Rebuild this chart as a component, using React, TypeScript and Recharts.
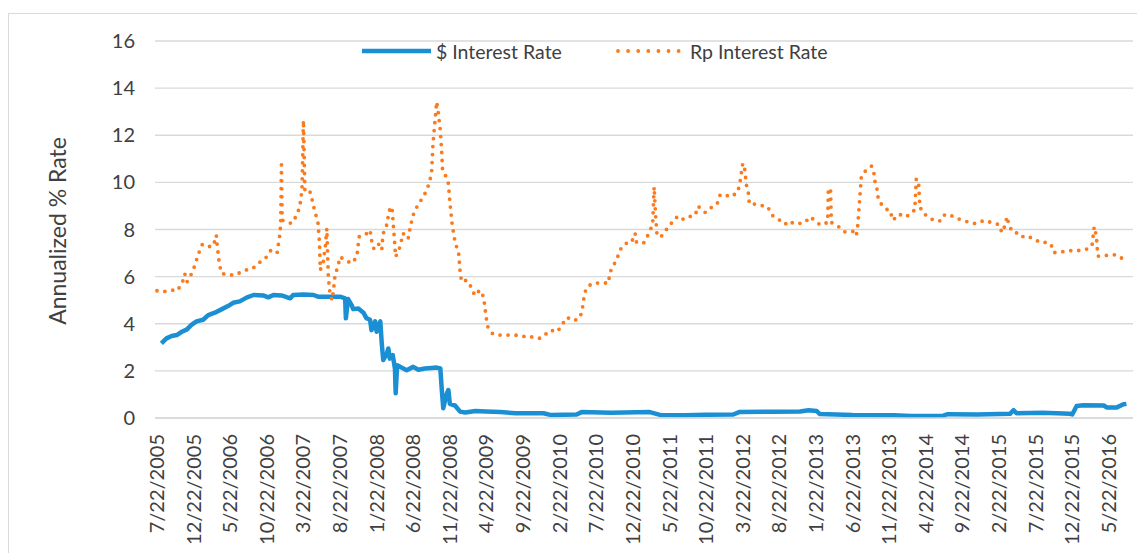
import React from "react";
import {
  LineChart,
  Line,
  XAxis,
  YAxis,
  CartesianGrid,
} from "recharts";

// months counted from 7/22/2005, one label every 5 months
const DATE_LABELS = [
  "7/22/2005", "12/22/2005", "5/22/2006", "10/22/2006", "3/22/2007",
  "8/22/2007", "1/22/2008", "6/22/2008", "11/22/2008", "4/22/2009",
  "9/22/2009", "2/22/2010", "7/22/2010", "12/22/2010", "5/22/2011",
  "10/22/2011", "3/22/2012", "8/22/2012", "1/22/2013", "6/22/2013",
  "11/22/2013", "4/22/2014", "9/22/2014", "2/22/2015", "7/22/2015",
  "12/22/2015", "5/22/2016",
];
const TICK_STEP = 5;
const Y_TICKS = [0, 2, 4, 6, 8, 10, 12, 14, 16];

const USD_MONTHS = [
  0.6, 1.3, 2.0, 2.7, 3.4, 4.1, 4.7, 5.4, 6.3, 7.0, 7.9, 8.8, 9.7, 10.4, 11.3,
  12.3, 13.2, 14.5, 15.2, 15.9, 17.0, 18.2, 18.6, 20.0, 21.4, 22.0, 23.5, 25.0,
  25.7, 25.8, 26.1, 26.6, 26.8, 27.5, 28.2, 28.6, 29.1, 29.3, 29.8, 30.0, 30.5,
  30.7, 30.9, 31.4, 31.6, 31.8, 32.2, 32.5, 32.6, 32.8, 33.4, 34.1, 35.0, 35.7,
  36.6, 37.5, 38.2, 38.7, 38.9, 39.1, 39.5, 39.8, 40.0, 40.7, 41.4, 42.1, 43.5,
  44.9, 46.9, 49.0, 52.8, 53.7, 57.3, 58.0, 62.0, 67.3, 68.7, 72.0, 75.0, 78.7,
  79.5, 84.0, 87.8, 89.0, 90.1, 90.5, 95.0, 100.6, 103.0, 107.4, 108.0, 112.0,
  116.5, 117.0, 117.4, 121.0, 124.7, 125.0, 125.6, 126.5, 129.3, 129.7, 131.1,
  132.0, 132.4,
];
const USD_RATES = [
  3.17, 3.38, 3.48, 3.52, 3.66, 3.76, 3.95, 4.1, 4.17, 4.37, 4.47, 4.61, 4.75,
  4.89, 4.95, 5.12, 5.22, 5.2, 5.12, 5.22, 5.2, 5.08, 5.22, 5.24, 5.22, 5.15,
  5.15, 5.15, 5.08, 4.23, 5.05, 4.78, 4.62, 4.65, 4.47, 4.24, 4.17, 3.73, 4.1,
  3.66, 4.1, 3.17, 2.46, 2.74, 2.95, 2.52, 2.67, 2.1, 1.05, 2.24, 2.14, 2.03,
  2.17, 2.05, 2.1, 2.12, 2.14, 2.1, 1.19, 0.41, 0.96, 1.19, 0.6, 0.53, 0.27,
  0.23, 0.3, 0.28, 0.25, 0.2, 0.2, 0.13, 0.15, 0.25, 0.22, 0.25, 0.13, 0.12,
  0.14, 0.15, 0.25, 0.27, 0.28, 0.33, 0.3, 0.17, 0.13, 0.12, 0.08, 0.1, 0.16,
  0.15, 0.18, 0.33, 0.2, 0.22, 0.18, 0.15, 0.51, 0.54, 0.53, 0.45, 0.45, 0.58,
  0.6,
];

const RP_MONTHS = [
  0.0, 0.9, 2.0, 2.8, 3.5, 3.8, 4.1, 4.7, 5.2, 5.6, 6.2, 7.0, 7.7, 8.1, 8.2,
  8.5, 8.8, 9.7, 10.7, 11.8, 13.1, 13.8, 14.8, 15.5, 16.4, 16.6, 16.8, 16.9,
  17.0, 17.1, 17.5, 18.4, 19.1, 19.5, 19.8, 20.0, 20.2, 20.8, 21.1, 21.4, 21.7,
  22.0, 22.2, 22.3, 22.7, 23.0, 23.2, 23.4, 23.6, 23.9, 24.1, 24.3, 24.8, 25.0,
  25.7, 26.6, 27.3, 27.6, 28.4, 29.1, 29.3, 29.6, 30.2, 30.7, 30.8, 31.0, 31.5,
  31.6, 32.1, 32.2, 32.4, 32.5, 32.6, 33.2, 33.6, 34.3, 34.6, 35.0, 35.7, 36.4,
  37.1, 37.5, 37.7, 38.2, 38.4, 38.7, 38.9, 39.0, 39.3, 39.8, 40.0, 40.3, 40.7,
  41.2, 41.4, 41.6, 42.3, 42.9, 43.4, 44.1, 44.6, 44.8, 45.0, 45.2, 45.8, 46.4,
  47.5, 48.6, 49.8, 50.5, 51.4, 52.3, 52.7, 53.7, 54.7, 55.3, 56.0, 57.0, 57.8,
  58.1, 58.3, 58.6, 59.4, 60.3, 61.0, 61.7, 61.8, 62.8, 63.3, 64.0, 64.8, 65.3,
  65.5, 66.5, 67.2, 67.7, 67.9, 68.1, 68.3, 68.9, 69.3, 70.1, 70.6, 71.3, 71.9,
  72.6, 73.5, 73.9, 74.9, 75.7, 76.5, 76.9, 77.4, 78.3, 79.3, 79.6, 80.0, 80.2,
  80.5, 80.8, 80.9, 81.8, 82.8, 83.4, 84.0, 84.9, 85.8, 86.2, 87.2, 88.5, 89.2,
  89.9, 90.6, 91.6, 91.7, 92.0, 92.1, 93.1, 93.9, 95.1, 95.5, 95.7, 96.2, 96.9,
  97.6, 98.0, 98.1, 98.4, 98.5, 99.1, 99.7, 100.2, 100.4, 100.7, 101.3, 102.0,
  102.4, 102.9, 103.5, 103.7, 104.0, 104.2, 104.5, 104.9, 105.5, 106.2, 107.1,
  107.6, 108.0, 109.0, 109.7, 110.8, 111.8, 113.0, 114.1, 115.0, 115.4, 115.8,
  116.1, 116.4, 117.1, 117.7, 118.3, 118.7, 119.7, 120.6, 121.5, 122.1, 122.5,
  123.7, 124.7, 125.7, 126.9, 127.7, 128.0, 128.3, 128.5, 129.7, 130.9, 131.7,
  132.8,
];
const RP_RATES = [
  5.4, 5.36, 5.43, 5.4, 5.78, 6.12, 5.78, 6.11, 6.49, 6.92, 7.37, 7.27, 7.3,
  7.76, 7.4, 6.59, 6.14, 6.07, 6.07, 6.25, 6.35, 6.56, 6.77, 7.1, 6.99, 7.42,
  7.84, 8.26, 10.75, 8.4, 8.33, 8.26, 8.61, 8.97, 9.67, 12.64, 9.67, 9.7, 9.39,
  8.97, 8.62, 8.26, 7.4, 6.28, 6.6, 7.3, 8.05, 6.0, 5.36, 5.0, 5.4, 6.0, 6.56,
  6.84, 6.7, 6.56, 6.84, 7.69, 7.76, 7.98, 7.55, 7.2, 7.42, 7.13, 7.55, 7.98,
  8.26, 8.75, 8.97, 8.54, 7.69, 7.27, 6.84, 7.27, 7.84, 7.6, 8.12, 8.62, 9.1,
  9.38, 9.89, 10.38, 11.65, 13.42, 13.0, 12.2, 11.23, 10.52, 10.38, 9.95, 9.17,
  8.26, 7.48, 6.99, 6.21, 5.78, 5.85, 5.57, 5.2, 5.43, 5.15, 4.66, 4.2, 3.87,
  3.59, 3.52, 3.52, 3.52, 3.5, 3.42, 3.45, 3.38, 3.45, 3.73, 3.66, 3.95, 4.27,
  4.13, 4.27, 4.65, 5.08, 5.5, 5.71, 5.73, 5.73, 5.73, 6.14, 6.74, 7.16, 7.41,
  7.44, 7.84, 7.44, 7.44, 7.84, 8.23, 9.81, 8.6, 7.72, 7.72, 7.9, 8.19, 8.44,
  8.58, 8.43, 8.54, 8.6, 8.99, 8.72, 8.93, 9.08, 9.46, 9.5, 9.38, 9.57, 9.95,
  10.8, 10.75, 9.89, 9.5, 9.08, 9.08, 9.0, 8.97, 8.61, 8.43, 8.22, 8.36, 8.23,
  8.3, 8.54, 8.37, 8.19, 8.3, 9.75, 9.7, 8.3, 8.12, 7.9, 7.92, 7.73, 8.15,
  10.24, 10.55, 10.69, 10.3, 9.88, 9.67, 9.28, 9.0, 8.85, 8.79, 8.4, 8.45, 8.65,
  8.58, 8.54, 8.72, 8.82, 10.14, 10.1, 8.9, 8.86, 8.64, 8.5, 8.37, 8.37, 8.64,
  8.62, 8.54, 8.42, 8.32, 8.25, 8.39, 8.28, 8.21, 7.87, 8.15, 8.55, 8.12, 7.84,
  7.87, 7.69, 7.73, 7.62, 7.45, 7.45, 7.37, 7.02, 7.06, 7.1, 7.1, 7.16, 7.3,
  8.12, 7.72, 6.87, 6.9, 6.93, 6.79, 6.79,
];

const BLUE = "#1B8FD3";
const ORANGE = "#FA7A1C";
const TEXT = "#404040";
const GRID = "#d9d9d9";
const FONT = "Lato, 'Open Sans', sans-serif";

const usdData = USD_MONTHS.map((m, i) => ({ m, v: USD_RATES[i] }));
const rpData = RP_MONTHS.map((m, i) => ({ m, v: RP_RATES[i] }));
const xTicks = DATE_LABELS.map((_, i) => i * TICK_STEP);

function DateTick({ x, y, payload }: any) {
  const label = DATE_LABELS[Math.round(payload.value / TICK_STEP)];
  return (
    <text
      x={x}
      y={y}
      transform={`rotate(-90 ${x} ${y})`}
      textAnchor="end"
      dy="0.35em"
      fill={TEXT}
      fontSize={20}
      fontFamily={FONT}
    >
      {label}
    </text>
  );
}

function AxisTitle() {
  return (
    <text
      x={48}
      y={217}
      transform="rotate(-90 48 217)"
      textAnchor="middle"
      dominantBaseline="central"
      fill={TEXT}
      fontSize={23}
      fontFamily={FONT}
    >
      Annualized % Rate
    </text>
  );
}

function ChartLegend() {
  const item: React.CSSProperties = {
    position: "absolute",
    top: 24,
    height: 26,
    display: "flex",
    alignItems: "center",
    fontFamily: FONT,
    fontSize: 19.5,
    color: TEXT,
    whiteSpace: "nowrap",
  };
  return (
    <>
      <div style={{ ...item, left: 353 }}>
        <svg width={69} height={10}>
          <line x1={0} y1={5} x2={69} y2={5} stroke={BLUE} strokeWidth={4.5} />
        </svg>
        <span style={{ marginLeft: 5 }}>$ Interest Rate</span>
      </div>
      <div style={{ ...item, left: 606 }}>
        <svg width={66} height={10}>
          <line
            x1={3}
            y1={5}
            x2={64}
            y2={5}
            stroke={ORANGE}
            strokeWidth={3.8}
            strokeLinecap="round"
            strokeDasharray="0 10.1"
          />
        </svg>
        <span style={{ marginLeft: 9 }}>Rp Interest Rate</span>
      </div>
    </>
  );
}

export default function App() {
  return (
    <div style={{ paddingTop: 5 }}>
      <div
        style={{
          position: "relative",
          width: 1136,
          height: 539,
          borderTop: `1px solid ${GRID}`,
          borderLeft: `1px solid ${GRID}`,
          background: "#fff",
        }}
      >
        <LineChart
          width={1136}
          height={539}
          margin={{ top: 27, right: 12, bottom: 0, left: 0 }}
        >
          <CartesianGrid vertical={false} stroke={GRID} strokeWidth={1.3} />
          <XAxis
            type="number"
            dataKey="m"
            domain={[-0.27, 133.3]}
            ticks={xTicks}
            interval={0}
            allowDataOverflow
            tick={<DateTick />}
            tickLine={false}
            tickSize={6}
            tickMargin={10}
            axisLine={{ stroke: GRID, strokeWidth: 1.3 }}
            height={135}
          />
          <YAxis
            type="number"
            domain={[0, 16]}
            ticks={Y_TICKS}
            interval={0}
            width={146}
            tickLine={false}
            axisLine={false}
            tickSize={6}
            tickMargin={14}
            tick={{ fill: TEXT, fontSize: 20, fontFamily: FONT }}
            label={<AxisTitle />}
          />
          <Line
            data={usdData}
            dataKey="v"
            type="linear"
            stroke={BLUE}
            strokeWidth={4.5}
            strokeLinejoin="round"
            dot={false}
            activeDot={false}
            isAnimationActive={false}
          />
          <Line
            data={rpData}
            dataKey="v"
            type="linear"
            stroke={ORANGE}
            strokeWidth={3.8}
            strokeLinecap="round"
            strokeDasharray="0 8"
            dot={false}
            activeDot={false}
            isAnimationActive={false}
          />
        </LineChart>
        <ChartLegend />
      </div>
    </div>
  );
}
